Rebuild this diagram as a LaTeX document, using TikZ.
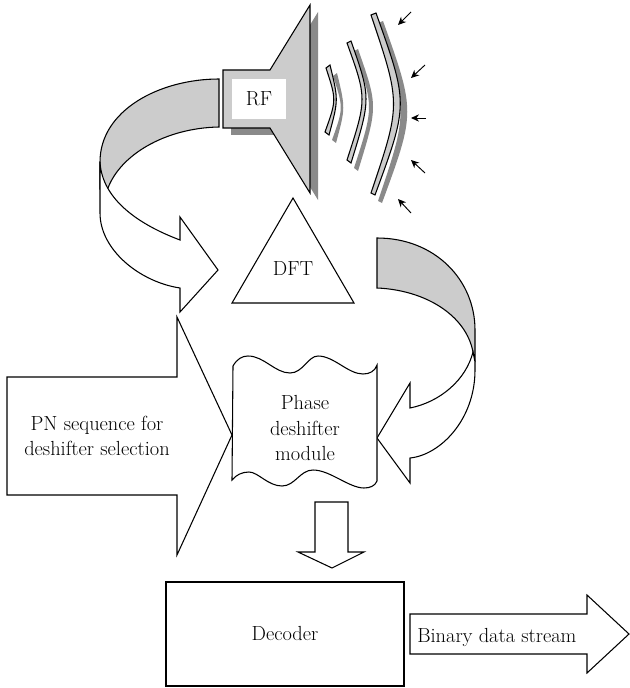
\documentclass[tikz,border=0pt]{standalone}
\usetikzlibrary{arrows.meta}
\definecolor{facegray}{RGB}{204,204,204}
\definecolor{shadowgray}{RGB}{138,138,138}
\begin{document}
\begin{tikzpicture}[x=0.75pt,y=-0.75pt,line join=miter,
  outline/.style={draw=black,line width=0.8pt},
  shaded/.style={outline,fill=facegray},
  blank/.style={outline,fill=white},
  dropshadow/.style={fill=shadowgray},
  label/.style={inner sep=0pt,font=\fontsize{15.3}{19.2}\selectfont},
  incoming/.style={-{Stealth[length=6pt,width=5.5pt]},line width=0.7pt}]
\useasboundingbox (0,0) rectangle (630,688);

% horn antenna with its drop shadow
\fill[dropshadow,shift={(8,7)}] (223,70) -- (270,70) -- (310,5) -- (310,193) -- (270,128) -- (223,128) -- cycle;
\draw[shaded] (223,70) -- (270,70) -- (310,5) -- (310,193) -- (270,128) -- (223,128) -- cycle;
\fill[white] (232,79) rectangle (286,119);
\node[label] (rf) at (259,99) {RF};

% wave fronts (shadow first, then the bar)
\begin{scope}[shift={(7,8)}]
  \fill[dropshadow] (326,68) .. controls (336.5,100) .. (325,132) -- (329,135) .. controls (338.5,100) .. (330,65) -- cycle;
  \fill[dropshadow] (347,43) .. controls (367,98.5) .. (347,160) -- (351,163) .. controls (371,98) .. (351,41) -- cycle;
  \fill[dropshadow] (371,15) .. controls (401,104) .. (371,193) -- (375,195) .. controls (408.5,104) .. (376,13) -- cycle;
\end{scope}
\draw[shaded] (326,68) .. controls (336.5,100) .. (325,132) -- (329,135) .. controls (338.5,100) .. (330,65) -- cycle;
\draw[shaded] (347,43) .. controls (367,98.5) .. (347,160) -- (351,163) .. controls (371,98) .. (351,41) -- cycle;
\draw[shaded] (371,15) .. controls (401,104) .. (371,193) -- (375,195) .. controls (408.5,104) .. (376,13) -- cycle;

% incoming signal
\coordinate (s1) at (411,12);  \coordinate (t1) at (398,25);
\coordinate (s2) at (425,65);  \coordinate (t2) at (411,78);
\coordinate (s3) at (426,118); \coordinate (t3) at (411,118);
\coordinate (s4) at (425,173); \coordinate (t4) at (411,160);
\coordinate (s5) at (411,213); \coordinate (t5) at (398,199);
\foreach \i in {1,...,5} \draw[incoming] (s\i) -- (t\i);

% curved arrow from the antenna down to the DFT
\draw[shaded] (219,79) .. controls (160,79) and (100,110) .. (100,162) -- (100,189) -- (107.7,188.8)
  .. controls (120,155) and (165,128) .. (219,127) -- cycle;
\draw[blank] (100,162) -- (100,213) .. controls (100,250) and (140,282) .. (180,288) -- (180,312)
  -- (218,270) -- (180,217) -- (180,240) .. controls (140,225) and (102,200) .. (100,162) -- cycle;

% DFT block
\draw[blank] (232,303) -- (293,198) -- (354,303) -- cycle;
\node[label] (dft) at (293,269) {DFT};

% curved arrow from the DFT down to the deshifter
\draw[shaded] (377,238) .. controls (435,238) and (475,280) .. (475,330) -- (475,362) -- (473,352)
  .. controls (466,315) and (425,290) .. (377,288) -- cycle;
\draw[blank] (473,352) .. controls (466,380) and (440,402) .. (410,408) -- (410,383) -- (377,438)
  -- (410,483) -- (410,458) .. controls (440,455) and (475,420) .. (475,370) -- (475,362) -- cycle;

% PN sequence input arrow
\draw[blank] (7,377) -- (177,377) -- (177,317) -- (232,435) -- (177,555) -- (177,495) -- (7,495) -- cycle;
\node[label,align=center] (pn) at (97,436) {PN sequence for\\deshifter selection};

% phase deshifter module (punched-tape outline)
\draw[blank] (233,366) .. controls (237,359) and (242,356) .. (248,356)
  .. controls (264,356) and (275,373) .. (290,373) .. controls (303,373) and (308,356) .. (318,356)
  .. controls (334,356) and (348,374) .. (363,374) .. controls (370,374) and (375,371) .. (377,365)
  -- (377,481)
  .. controls (375,486) and (370,488) .. (364,488) .. controls (349,488) and (330,470) .. (313,470)
  .. controls (300,470) and (295,486) .. (282,486) .. controls (268,486) and (258,472) .. (249,472)
  .. controls (242,472) and (236,475) .. (232,480) -- cycle;
\node[label,align=center] (mod) at (305,428) {Phase\\deshifter\\module};

% arrow into the decoder
\draw[blank] (315,502) -- (348,502) -- (348,552) -- (364,552) -- (332,568) -- (298,552) -- (315,552) -- cycle;

% decoder
\draw[outline] (166,582) rectangle (404,686);
\node[label] (dec) at (285,633) {Decoder};

% output arrow
\draw[blank] (410,614) -- (587,614) -- (587,595) -- (629,634) -- (587,673) -- (587,654) -- (410,654) -- cycle;
\node[label,anchor=base west] (out) at (417,642) {Binary data stream};
\end{tikzpicture}
\end{document}
